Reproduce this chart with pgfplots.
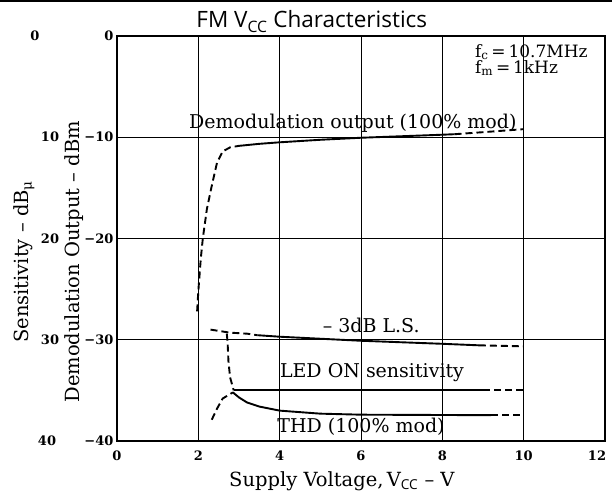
\documentclass[border=0pt]{standalone}
\usepackage{fontspec}
\setmainfont{DejaVu Serif}
\newfontfamily\titlefont{Open Sans}
\usepackage{pgfplots}
\pgfplotsset{compat=1.18}
\begin{document}
\begin{tikzpicture}
\useasboundingbox (-117pt,-54pt) rectangle (495pt,441pt);
\draw[line width=1.2pt] (-117pt,440pt) -- (495pt,440pt);
\draw[line width=3pt] (-117pt,440pt) -- (130pt,440pt);
\begin{axis}[at={(0,0)}, anchor=south west, scale only axis,
  width=488pt, height=405pt, clip=false,
  xmin=0, xmax=12, ymin=-40, ymax=0,
  xtick={0,2,4,6,8,10}, ytick={-40,-30,-20,-10,0},
  xticklabels={0,2,4,6,8,10},
  extra x ticks={12}, extra x tick labels={12},
  extra x tick style={xticklabel style={xshift=-8pt}},
  yticklabels={−40,−30,−20,−10,0},
  grid=major, major grid style={black, line width=0.8pt},
  axis line style={line width=1.3pt}, major tick length=0pt,
  tick label style={font=\bfseries\fontsize{13}{14}\selectfont},
  xticklabel style={yshift=-6pt},
  crv/.style={black, solid, line width=1.9pt, mark=none},
  dsh/.style={crv, dash pattern=on 7pt off 4pt},
]
% Demodulation output
\addplot[dsh] coordinates {(1.97,-27.2)(2.0,-25.2)(2.06,-22)(2.11,-20)(2.21,-17.1)(2.33,-14.8)(2.46,-12.5)(2.6,-11.4)(2.78,-11.0)(3.0,-10.85)};
\addplot[crv] coordinates {(3.0,-10.85)(3.5,-10.65)(4,-10.5)(5,-10.25)(6,-10.05)(7,-9.9)(8,-9.75)(8.3,-9.7)};
\addplot[dsh] coordinates {(8.3,-9.7)(9,-9.5)(10,-9.2)};
% -3dB L.S.
\addplot[dsh] coordinates {(2.3,-29.0)(2.78,-29.3)(3.2,-29.4)(3.45,-29.55)};
\addplot[crv] coordinates {(3.45,-29.55)(4,-29.7)(5,-29.9)(6,-30.1)(7,-30.25)(8,-30.4)(8.9,-30.55)};
\addplot[dsh] coordinates {(8.9,-30.55)(10,-30.65)};
% LED ON sensitivity
\addplot[dsh] coordinates {(2.7,-29.4)(2.72,-30.3)(2.74,-32.1)(2.78,-33.7)(2.87,-35.0)};
\addplot[crv] coordinates {(2.87,-35.0)(5,-35.0)(9.0,-35.0)};
\addplot[dsh] coordinates {(9.0,-35.0)(10,-35.0)};
% THD
\addplot[dsh] coordinates {(2.33,-37.9)(2.46,-36.8)(2.6,-35.8)(2.85,-35.2)};
\addplot[crv] coordinates {(2.85,-35.2)(3.0,-35.7)(3.2,-36.2)(3.5,-36.6)(4,-37.0)(5,-37.3)(6,-37.4)(9.2,-37.45)};
\addplot[dsh] coordinates {(9.2,-37.45)(10,-37.45)};
% labels
\node[font=\fontsize{19}{20}\selectfont] at (axis cs:5.8,-8.6) {Demodulation output (100\% mod)};
\node[font=\fontsize{17}{18}\selectfont, anchor=west] at (axis cs:8.72,-1.6) {f\textsubscript{c}\,=\,10.7MHz};
\node[font=\fontsize{17}{18}\selectfont, anchor=west] at (axis cs:8.72,-3.15) {f\textsubscript{m}\,=\,1kHz};
\node[font=\fontsize{19}{20}\selectfont] at (axis cs:6.25,-28.6) {– 3dB L.S.};
\node[font=\fontsize{19}{20}\selectfont] at (axis cs:6.27,-33.2) {LED ON sensitivity};
\node[font=\fontsize{19}{20}\selectfont] at (axis cs:6.0,-38.6) {THD (100\% mod)};
% outer (sensitivity) tick labels
\node[font=\bfseries\fontsize{13}{14}\selectfont] at (axis cs:0,0) [xshift=-82pt] {0};
\node[font=\bfseries\fontsize{13}{14}\selectfont] at (axis cs:0,-10) [xshift=-67pt] {10};
\node[font=\bfseries\fontsize{13}{14}\selectfont] at (axis cs:0,-20) [xshift=-67pt] {20};
\node[font=\bfseries\fontsize{13}{14}\selectfont] at (axis cs:0,-30) [xshift=-67pt] {30};
\node[font=\bfseries\fontsize{13}{14}\selectfont] at (axis cs:0,-40) [xshift=-70pt] {40};
% axis labels
\path (axis cs:0,-22.3) ++(-93pt,0pt) node[anchor=center, font=\fontsize{19.5}{20}\selectfont, rotate=90] {Sensitivity – dB\textsubscript{μ}};
\path (axis cs:0,-22.3) ++(-43pt,0pt) node[anchor=center, font=\fontsize{19.5}{20}\selectfont, rotate=90] {Demodulation Output – dBm};
\node[font=\fontsize{19.5}{20}\selectfont] at (axis cs:5.53,-40) [yshift=-40pt] {Supply Voltage,\,V\textsubscript{\titlefont CC} – V};
\node[font=\titlefont\fontsize{22.5}{24}\selectfont, anchor=base] at (axis cs:4.79,0) [yshift=8pt] {FM V\textsubscript{CC} Characteristics};
\end{axis}
\end{tikzpicture}
\end{document}
